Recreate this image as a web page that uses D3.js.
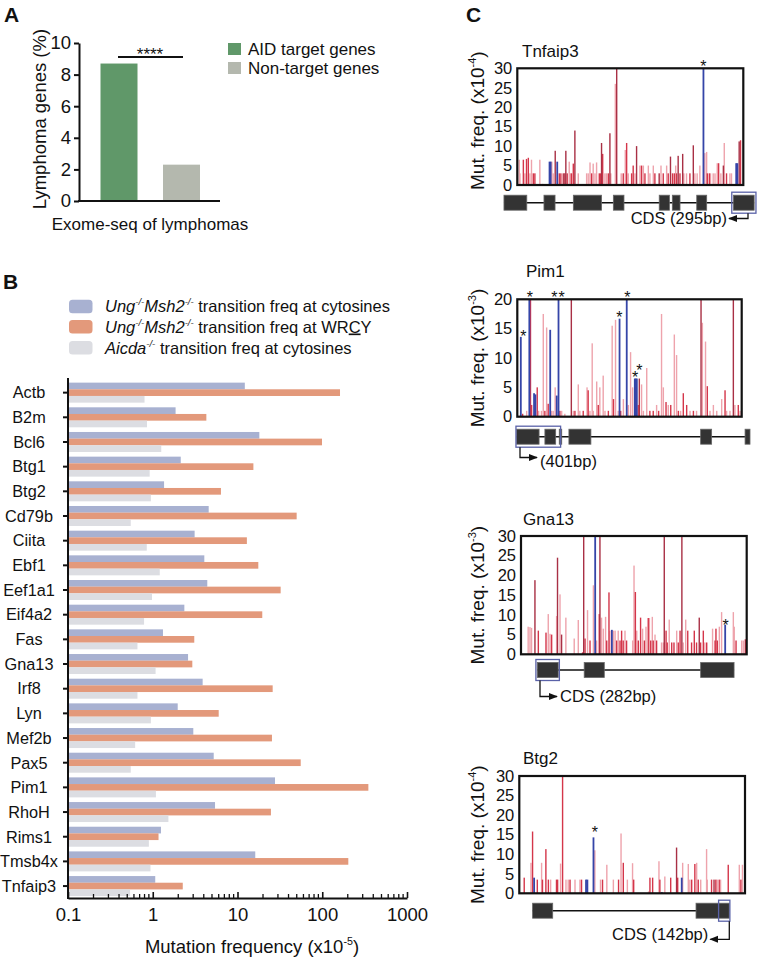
<!DOCTYPE html>
<html><head><meta charset="utf-8">
<script src="https://cdn.jsdelivr.net/npm/d3@7"></script>
<style>
body{margin:0;background:#fff}
svg{display:block}
text{font-family:"Liberation Sans",Arial,sans-serif;fill:#111}
</style>
</head><body>
<svg id="c" width="757" height="958"></svg>
<script>
// ---------------- DATA ----------------
// Panel A
const aCategories = ["AID target genes", "Non-target genes"];
const aValues = [8.7, 2.3];
const aTicks = [0, 2, 4, 6, 8, 10];

// Panel B
const bGenes = ["Actb","B2m","Bcl6","Btg1","Btg2","Cd79b","Ciita","Ebf1","Eef1a1","Eif4a2","Fas","Gna13","Irf8","Lyn","Mef2b","Pax5","Pim1","RhoH","Rims1","Tmsb4x","Tnfaip3"];
const bUngCyt  = [12.2,1.86,18.1,2.14,1.36,4.57,3.12,4.06,4.4,2.36,1.32,2.61,3.88,1.97,3.01,5.24,27.7,5.43,1.25,16.2,1.07];
const bUngWrcy = [162,4.29,99.3,15.4,6.38,49.9,12.9,17.6,32.3,19.6,3.09,2.93,26.0,6.0,25.5,55.7,350,24.8,1.17,203,2.26];
const bAicda   = [0.80,0.855,1.26,0.92,0.95,0.55,0.85,1.21,0.98,0.79,0.66,1.08,0.66,0.95,0.62,0.55,1.09,1.53,0.90,0.94,0.54];
const bTicks = [0.1, 1, 10, 100, 1000];

// Panel C : spikes [position (0-100 along region), mutation freq, class]
// class: p = light (pink), r = red, d = dark red, b = blue (significant)
const cTnfaip3 = [[0.9,6.5,'p'],[1.2,3,'p'],[2.7,6.5,'r'],[3.4,3,'p'],[4.1,6.7,'r'],[4.9,7,'r'],[5.6,3,'p'],[6.3,6.5,'p'],[7.1,3,'r'],[7.8,3,'r'],[10.0,6.5,'p'],[11.2,0.3,'p'],[14.2,6,'b'],[14.7,6,'b'],[15.3,6,'p'],[15.9,3,'p'],[16.8,8.8,'d'],[17.6,6,'b'],[18.6,3,'r'],[19.3,3,'r'],[20.1,3,'p'],[20.6,3,'d'],[21.1,3,'r'],[21.5,8.8,'d'],[22.1,3,'r'],[23.0,6,'p'],[23.6,3,'p'],[24.0,3,'r'],[24.8,5.5,'r'],[25.5,14,'d'],[27.0,3,'p'],[30.7,3,'p'],[31.4,3,'p'],[32.2,5.8,'p'],[32.9,3,'r'],[33.6,5.5,'p'],[34.4,3,'p'],[35.1,5.8,'p'],[36.3,3,'r'],[36.9,3,'r'],[37.3,10.8,'d'],[37.8,8,'r'],[38.8,3,'p'],[39.5,3,'p'],[40.3,3,'r'],[41.0,13.3,'d'],[41.4,3,'p'],[43.4,26,'p'],[44.0,30,'d'],[46.0,3,'p'],[46.9,3,'r'],[47.8,9,'p'],[48.4,10.8,'r'],[49.1,3,'p'],[50.6,3,'r'],[51.3,5,'r'],[52.1,3,'p'],[52.8,10,'d'],[54.3,5,'p'],[55.0,5,'r'],[55.8,5,'p'],[56.5,3,'r'],[58.0,5,'p'],[58.7,3,'p'],[60.2,5,'p'],[60.9,3,'r'],[62.8,3,'d'],[63.6,5,'p'],[64.6,3,'r'],[66.1,5,'p'],[66.8,3,'r'],[67.8,7.3,'d'],[68.7,3,'r'],[69.5,3,'r'],[70.1,5,'p'],[70.5,3,'r'],[71.2,7.5,'d'],[72.0,3,'r'],[73.2,8,'d'],[73.7,3,'p'],[74.9,3,'p'],[76.4,3,'r'],[77.9,10.2,'d'],[78.6,3,'p'],[79.6,3,'p'],[80.8,5,'p'],[82.3,30,'b'],[83.0,8.2,'p'],[83.8,8.5,'p'],[84.1,3,'r'],[85.0,3,'r'],[85.5,3,'p'],[86.7,3,'p'],[87.5,3,'p'],[88.5,5.6,'p'],[89.1,5.6,'r'],[90.1,3,'p'],[91.2,5,'d'],[91.6,10.8,'p'],[92.6,3,'r'],[94.1,3,'p'],[94.8,3,'p'],[96.8,5.6,'b'],[97.3,5.6,'b'],[98.2,11.2,'d'],[98.8,11.5,'r']];
const cPim1 = [[1.5,13.6,'b'],[2.4,0.5,'r'],[4.2,1,'p'],[5.3,20,'b'],[5.9,20,'r'],[6.4,2,'r'],[7.4,4,'b'],[8.0,3.8,'b'],[8.9,5,'r'],[9.5,1,'p'],[10.8,1,'p'],[11.6,17.5,'p'],[12.3,1,'r'],[13.1,15.2,'p'],[13.8,2.2,'r'],[14.6,14.8,'b'],[15.3,1,'p'],[16.0,1,'p'],[16.9,5,'p'],[17.5,3.6,'b'],[18.3,20,'b'],[19.0,1,'r'],[19.8,1,'p'],[21.2,0.5,'p'],[24.1,20,'d'],[25.0,1,'p'],[25.7,1,'r'],[27.2,5.5,'p'],[27.9,1,'p'],[29.4,1,'r'],[31.1,5,'p'],[31.6,4.5,'r'],[32.4,1,'p'],[33.4,12.5,'p'],[33.9,1,'p'],[35.4,6,'p'],[36.1,2,'r'],[36.8,5,'p'],[38.3,7,'p'],[39.1,1,'p'],[40.6,1,'r'],[42.3,15.5,'p'],[42.9,3,'r'],[43.8,16.5,'p'],[45.0,1,'p'],[45.5,16.7,'b'],[46.1,1,'r'],[47.3,3,'p'],[48.7,20,'b'],[49.5,2,'p'],[50.5,11,'p'],[51.4,5,'p'],[52.3,6.5,'b'],[52.7,6.5,'b'],[53.2,6.5,'b'],[53.9,2,'r'],[54.4,6.5,'d'],[55.4,5.5,'p'],[56.2,1,'p'],[57.7,8.3,'p'],[59.1,1,'r'],[60.6,1,'r'],[62.1,2,'p'],[63.0,1,'r'],[64.3,17.5,'p'],[65.1,5,'p'],[66.3,2.5,'r'],[67.3,2,'p'],[68.4,2,'r'],[70.0,14,'p'],[71.0,10.5,'p'],[71.8,1,'r'],[72.8,1,'p'],[74.0,4,'r'],[75.5,2,'r'],[77.0,1,'p'],[78.5,1,'r'],[79.9,1,'p'],[81.9,20,'d'],[82.5,16,'p'],[83.9,12.8,'p'],[84.7,5.2,'r'],[85.9,1,'p'],[87.4,2,'p'],[88.9,1,'p'],[91.1,3,'p'],[92.6,4.5,'r'],[93.3,1,'p'],[94.8,1,'p'],[96.3,20,'d'],[97.0,2,'p'],[98.5,2,'r'],[99.3,1,'p']];
const cGna13 = [[3.2,7,'p'],[4.0,6.9,'p'],[4.7,6.7,'p'],[6.2,18.8,'d'],[7.7,6,'r'],[11.1,5.5,'r'],[12.1,10.2,'p'],[12.9,5.2,'p'],[13.6,5,'r'],[15.8,9.7,'p'],[16.2,24.5,'d'],[17.3,15.2,'p'],[18.0,5,'d'],[19.9,9.3,'p'],[23.6,4,'p'],[25.4,8.7,'p'],[27.3,0.5,'r'],[27.8,30,'d'],[28.4,4,'r'],[29.5,11.2,'p'],[30.6,3.5,'r'],[32.1,17.5,'p'],[32.8,30,'b'],[33.5,3.5,'p'],[34.7,10.2,'r'],[35.0,30,'d'],[35.7,9.3,'p'],[36.5,6.5,'p'],[37.5,9.5,'p'],[38.0,3.5,'r'],[39.0,15.7,'r'],[39.4,6,'p'],[40.2,6.2,'b'],[40.9,6,'p'],[41.7,6,'p'],[42.4,3.5,'r'],[43.1,6,'p'],[43.9,3.5,'r'],[44.6,6,'r'],[45.3,3.5,'r'],[46.1,6,'p'],[46.8,3.5,'r'],[49.5,3.5,'p'],[50.1,22.5,'p'],[50.7,15.8,'r'],[51.3,6,'p'],[52.0,3.5,'r'],[53.0,9.3,'r'],[53.9,6.5,'p'],[54.7,3.5,'r'],[55.4,7,'p'],[56.4,9.2,'r'],[56.9,9.2,'p'],[57.5,3.5,'r'],[58.2,9.5,'p'],[58.6,3.5,'r'],[59.4,5,'p'],[60.1,3.5,'r'],[62.3,3,'p'],[63.1,3,'p'],[63.5,30,'d'],[64.3,6,'r'],[64.8,3,'r'],[65.7,8.8,'p'],[66.8,3,'r'],[67.8,3,'r'],[69.0,6,'p'],[69.7,3,'r'],[70.5,6,'r'],[71.3,30,'d'],[71.9,3,'p'],[73.0,8.8,'p'],[73.9,6,'r'],[75.6,3,'r'],[76.8,6,'r'],[77.8,3,'r'],[79.0,9.3,'d'],[79.6,3,'r'],[80.8,6,'r'],[81.5,3,'p'],[82.3,3,'r'],[84.9,6.5,'p'],[86.0,3.5,'r'],[86.4,6.5,'r'],[87.0,3.5,'r'],[87.9,7,'p'],[88.9,10.7,'p'],[90.4,7.5,'b'],[94.1,10.7,'p'],[94.5,7,'p'],[95.3,3.5,'r'],[97.8,3.5,'p'],[98.5,3.5,'p'],[99.4,3.8,'r']];
const cBtg2 = [[2.2,4,'r'],[5.2,7.8,'p'],[5.9,15.8,'r'],[6.5,4,'b'],[8.0,3.5,'r'],[9.9,7.8,'p'],[10.3,3.5,'r'],[11.8,11.3,'r'],[12.9,3.5,'r'],[13.9,3.5,'p'],[16.5,3.5,'r'],[17.0,3.5,'r'],[18.3,7.6,'p'],[19.2,30,'r'],[20.7,3.5,'p'],[21.7,3.5,'p'],[22.5,3.5,'r'],[24.7,3.5,'p'],[26.9,3.5,'p'],[27.6,3.5,'r'],[29.5,3.5,'b'],[30.1,3.5,'b'],[32.8,14.3,'b'],[33.5,11,'p'],[36.0,3.5,'p'],[36.9,3.5,'r'],[38.8,7.3,'p'],[41.7,3.5,'p'],[44.0,3.5,'r'],[45.1,15.3,'p'],[46.1,7.8,'r'],[47.9,3.5,'p'],[50.2,7.7,'p'],[50.7,3.5,'r'],[57.3,0.5,'p'],[57.9,4,'r'],[59.1,4,'r'],[61.9,8.2,'p'],[62.3,3.5,'r'],[63.1,0.3,'b'],[64.5,4.3,'p'],[67.1,4,'r'],[69.7,11.7,'d'],[70.2,4,'r'],[71.9,4,'b'],[72.4,7.8,'p'],[74.9,7.5,'p'],[75.6,3.5,'p'],[76.4,3.5,'r'],[77.8,7.5,'r'],[78.6,7.8,'p'],[79.3,3.5,'r'],[80.4,3.5,'p'],[83.0,11.3,'p'],[83.3,3.5,'p'],[85.2,3.5,'r'],[86.3,3.5,'d'],[87.1,3.5,'r'],[87.7,3.5,'p'],[88.6,3.5,'r'],[89.2,3.5,'p'],[92.6,7.3,'r'],[97.5,7.3,'p'],[98.2,3.5,'r'],[98.9,7.3,'p']];

// significance stars [position, freq at star centre]
const sTnfaip3 = [[82.3,31.4]];
const sPim1 = [[2.7,14.2],[5.6,20.9],[16.5,20.9],[19.8,20.9],[45.5,17.5],[49.0,20.9],[52.5,7.3],[54.4,8.4]];
const sGna13 = [[90.7,8.3]];
const sBtg2 = [[33.5,16.4]];

// gene structures (exons) in same position units, highlighted CDS region
const eTnfaip3 = [[-5.9,4.2],[11.8,16.7],[24.8,37.3],[42.5,47.2],[62.8,67.3],[68.6,72.0],[79.4,83.8],[95.6,104.8]];
const hTnfaip3 = [94.9,105.6];
const ePim1 = [[-0.3,9.7],[12.3,17.1],[18.7,19.8],[23.0,32.8],[81.7,86.6],[101.5,103.7]];
const hPim1 = [-0.6,19.3];
const eGna13 = [[7.2,16.5],[28.0,36.9],[79.6,94.4]];
const hGna13 = [6.6,17.0];
const eBtg2 = [[5.9,14.8],[78.3,93.0]];
const hBtg2 = [88.3,93.3];

// ---------------- DRAW ----------------
const svg = d3.select("#c");
const BLACK = "#111";
const FF = '"Liberation Sans",Arial,sans-serif';

function rich(t, parts, fs) {
  let shift = 0;
  parts.forEach(p => {
    const ts = t.append("tspan").text(p.t);
    if (p.sup) { ts.attr("font-size", fs * 0.58).attr("dy", -fs * 0.42); shift = fs * 0.42; }
    else if (shift) { ts.attr("dy", shift); shift = 0; }
    if (p.i) ts.attr("font-style", "italic");
    if (p.u) ts.attr("text-decoration", "underline");
  });
  return t;
}

// Panel labels
[["A",4,22],["B",3,289],["C",466,22]].forEach(([l,x,y]) =>
  svg.append("text").attr("x",x).attr("y",y).attr("font-size",21).attr("font-weight","bold").text(l));

// ===== Panel A =====
{
  const g = svg.append("g");
  const y = d3.scaleLinear([0,10],[201,43]);
  const x = d3.scalePoint(aCategories,[119,181.5]);
  const colors = ["#609869","#b4b8ae"];
  g.selectAll("rect.bar").data(aValues).join("rect")
    .attr("x",(d,i)=>x(aCategories[i]) - 18.5).attr("width",37)
    .attr("y",d=>y(d)).attr("height",d=>y(0)-y(d))
    .attr("fill",(d,i)=>colors[i]);
  const ax = g.append("g").attr("transform","translate(79,0)")
    .call(d3.axisLeft(y).tickValues(aTicks).tickSize(5).tickSizeOuter(0).tickPadding(3));
  ax.select(".domain").attr("stroke",BLACK).attr("stroke-width",2);
  ax.selectAll(".tick line").attr("stroke",BLACK).attr("stroke-width",2);
  ax.selectAll("text").attr("font-size",18.5).attr("fill",BLACK).attr("font-family",FF);
  g.append("line").attr("x1",78).attr("x2",220).attr("y1",201).attr("y2",201).attr("stroke",BLACK).attr("stroke-width",2);
  g.append("text").attr("transform","translate(45.5,119) rotate(-90)").attr("text-anchor","middle").attr("font-size",18.5).text("Lymphoma genes (%)");
  g.append("text").attr("x",150).attr("y",230).attr("text-anchor","middle").attr("font-size",17).text("Exome-seq of lymphomas");
  g.append("line").attr("x1",x(aCategories[0])-1).attr("x2",x(aCategories[1])+1.5).attr("y1",57).attr("y2",57).attr("stroke",BLACK).attr("stroke-width",2);
  g.append("text").attr("x",150).attr("y",59.5).attr("text-anchor","middle").attr("font-size",17).text("****");
  aCategories.forEach((c,i)=>{
    g.append("rect").attr("x",228).attr("y",43+i*19).attr("width",13).attr("height",12).attr("fill",colors[i]);
    g.append("text").attr("x",248).attr("y",55+i*18.7).attr("font-size",17).text(c);
  });
}

// ===== Panel B =====
{
  const g = svg.append("g");
  const x = d3.scaleLog([0.1,1000],[68,407]);
  const y = d3.scaleBand(bGenes,[380.3,898.4]);
  const series = [
    {vals:bUngCyt, color:"#a8b1d1", off:-10},
    {vals:bUngWrcy, color:"#e3997b", off:-3.35},
    {vals:bAicda, color:"#dcdde2", off:3.3}
  ];
  series.forEach(s => {
    g.append("g").selectAll("rect").data(bGenes).join("rect")
      .attr("x",x(0.1)).attr("width",(d,i)=>x(s.vals[i])-x(0.1))
      .attr("y",d=>y(d)+y.bandwidth()/2+s.off).attr("height",6.7)
      .attr("fill",s.color);
  });
  // y axis
  g.append("line").attr("x1",68).attr("x2",68).attr("y1",378).attr("y2",899).attr("stroke",BLACK).attr("stroke-width",2);
  g.selectAll("line.yt").data(bGenes).join("line").attr("class","yt")
    .attr("x1",63).attr("x2",68).attr("y1",d=>y(d)+y.bandwidth()/2).attr("y2",d=>y(d)+y.bandwidth()/2)
    .attr("stroke",BLACK).attr("stroke-width",2);
  g.selectAll("text.yl").data(bGenes).join("text").attr("class","yl")
    .attr("x",29).attr("y",d=>y(d)+y.bandwidth()/2+5.8).attr("text-anchor","middle").attr("font-size",16.3).text(d=>d);
  // x axis
  const ax = g.append("g").attr("transform","translate(0,898)")
    .call(d3.axisBottom(x).tickValues(bTicks).tickFormat(d=>String(d)).tickSize(-6).tickSizeOuter(0).tickPadding(10));
  ax.select(".domain").attr("stroke",BLACK).attr("stroke-width",2);
  ax.selectAll(".tick line").attr("stroke",BLACK).attr("stroke-width",1.6);
  ax.selectAll("text").attr("font-size",18.5).attr("fill",BLACK).attr("font-family",FF);
  const minor = [];
  [0.1,1,10,100].forEach(dec => { for (let k=2;k<=9;k++) minor.push(dec*k); });
  g.selectAll("line.mt").data(minor).join("line").attr("class","mt")
    .attr("x1",d=>x(d)).attr("x2",d=>x(d)).attr("y1",898).attr("y2",894)
    .attr("stroke",BLACK).attr("stroke-width",1.3);
  rich(g.append("text").attr("x",252).attr("y",953).attr("text-anchor","middle").attr("font-size",18.5),
    [{t:"Mutation frequency (x10"},{t:"-5",sup:true},{t:")"}],18.5);
  // legend
  const leg = [
    [{t:"Ung",i:true},{t:"-/-",sup:true,i:true},{t:"Msh2",i:true},{t:"-/-",sup:true,i:true},{t:" transition freq at cytosines"}],
    [{t:"Ung",i:true},{t:"-/-",sup:true,i:true},{t:"Msh2",i:true},{t:"-/-",sup:true,i:true},{t:" transition freq at WR"},{t:"C",u:true},{t:"Y"}],
    [{t:"Aicda",i:true},{t:"-/-",sup:true,i:true},{t:" transition freq at cytosines"}]
  ];
  const ly = [306.5,326.7,347.7];
  series.forEach((s,i)=>{
    g.append("rect").attr("x",69).attr("y",ly[i]-6.7).attr("width",23.5).attr("height",13.4).attr("rx",3.5).attr("fill",s.color);
    rich(g.append("text").attr("x",105).attr("y",ly[i]+5.8).attr("font-size",16.5), leg[i], 16.5);
  });
}

// ===== Panel C =====
const spikeColor = {p:"#eea3ac", r:"#d4364a", d:"#a93045", b:"#3545a8"};
const panels = [
  {name:"Tnfaip3", data:cTnfaip3, stars:sTnfaip3, exons:eTnfaip3, hl:hTnfaip3, x0:517.3, x1:743.3, y0:68.3, y1:185, ymax:30, exp:"-4", ty:57, tx:522, dy:202.7,
    note:{text:"CDS (295bp)", side:"R", ax:748, ay:218.5}},
  {name:"Pim1", data:cPim1, stars:sPim1, exons:ePim1, hl:hPim1, x0:517.3, x1:741.7, y0:299.3, y1:416.7, ymax:20, exp:"-3", ty:277, tx:526, dy:436.7,
    note:{text:"(401bp)", side:"L", ax:520, ay:457.5}},
  {name:"Gna13", data:cGna13, stars:sGna13, exons:eGna13, hl:hGna13, x0:521, x1:746.7, y0:536, y1:654.3, ymax:30, exp:"-3", ty:525, tx:523, dy:670,
    note:{text:"CDS (282bp)", side:"L", ax:540, ay:696.5}},
  {name:"Btg2", data:cBtg2, stars:sBtg2, exons:eBtg2, hl:hBtg2, x0:519.3, x1:745, y0:776, y1:893.3, ymax:30, exp:"-4", ty:764, tx:523, dy:910.7,
    note:{text:"CDS (142bp)", side:"R", ax:729.3, ay:939.3}}
];
const defs = svg.append("defs");
defs.append("marker").attr("id","ah").attr("viewBox","0 0 10 10").attr("refX",9).attr("refY",5)
  .attr("markerWidth",7).attr("markerHeight",7).attr("orient","auto-start-reverse")
  .append("path").attr("d","M0,1 L10,5 L0,9 Z").attr("fill",BLACK);

panels.forEach((P,pi) => {
  const g = svg.append("g");
  const x = d3.scaleLinear([0,100],[P.x0,P.x1]);
  const y = d3.scaleLinear([0,P.ymax],[P.y1,P.y0]);
  defs.append("clipPath").attr("id","clip"+pi).append("rect")
    .attr("x",P.x0).attr("y",P.y0).attr("width",P.x1-P.x0).attr("height",P.y1-P.y0);
  g.append("text").attr("x",P.tx).attr("y",P.ty).attr("font-size",17).text(P.name);
  const sp = g.append("g").attr("clip-path","url(#clip"+pi+")");
  const order = {p:0,r:1,d:2,b:3};
  const sorted = P.data.slice().sort((a,b)=>order[a[2]]-order[b[2]]);
  sp.selectAll("rect").data(sorted).join("rect")
    .attr("x",d=>x(d[0])-0.75).attr("width",d=>d[2]==='b'?1.8:1.4)
    .attr("y",d=>y(Math.min(d[1],P.ymax))).attr("height",d=>y(0)-y(Math.min(d[1],P.ymax)))
    .attr("fill",d=>spikeColor[d[2]]);
  g.append("rect").attr("x",P.x0).attr("y",P.y0).attr("width",P.x1-P.x0).attr("height",P.y1-P.y0)
    .attr("fill","none").attr("stroke",BLACK).attr("stroke-width",2.2);
  const ax = g.append("g").attr("transform",`translate(${P.x0},0)`)
    .call(d3.axisLeft(y).tickValues(d3.range(0,P.ymax+1,5)).tickSize(0).tickPadding(5));
  ax.select(".domain").remove();
  ax.selectAll("text").attr("font-size",16.5).attr("fill",BLACK).attr("font-family",FF);
  rich(g.append("text").attr("transform",`translate(483.5,${(P.y0+P.y1)/2 + (pi===0?-6:0)}) rotate(-90)`)
      .attr("text-anchor","middle").attr("font-size",19),
    [{t:"Mut. freq. (x10"},{t:P.exp,sup:true},{t:")"}],19);
  g.selectAll("text.st").data(P.stars).join("text").attr("class","st")
    .attr("x",d=>x(d[0])).attr("y",d=>y(d[1])+9).attr("text-anchor","middle").attr("font-size",16).text("*");
  // gene structure
  const ex0 = d3.min(P.exons,e=>e[0]), ex1 = d3.max(P.exons,e=>e[1]);
  g.append("line").attr("x1",x(ex0)).attr("x2",x(ex1)).attr("y1",P.dy).attr("y2",P.dy).attr("stroke",BLACK).attr("stroke-width",1.4);
  g.selectAll("rect.ex").data(P.exons).join("rect").attr("class","ex")
    .attr("x",d=>x(d[0])).attr("width",d=>x(d[1])-x(d[0])).attr("y",P.dy-7.5).attr("height",15)
    .attr("fill","#333").attr("stroke","#666").attr("stroke-width",0.8);
  g.append("rect").attr("x",x(P.hl[0])).attr("width",x(P.hl[1])-x(P.hl[0])).attr("y",P.dy-10.5).attr("height",21)
    .attr("fill","none").attr("stroke","#5a62a8").attr("stroke-width",1.3);
  // CDS annotation
  const bottom = P.dy + 10.5;
  const N = P.note;
  if (N.side === "R") {
    g.append("path").attr("d",`M${N.ax},${bottom} L${N.ax},${N.ay} L${N.ax-19},${N.ay}`)
      .attr("fill","none").attr("stroke",BLACK).attr("stroke-width",1.3).attr("marker-end","url(#ah)");
    g.append("text").attr("x",N.ax-21).attr("y",N.ay+ (pi===3?0.5:5.5)).attr("text-anchor","end").attr("font-size",16.5).text(N.text);
  } else {
    g.append("path").attr("d",`M${N.ax},${bottom} L${N.ax},${N.ay} L${N.ax+17},${N.ay}`)
      .attr("fill","none").attr("stroke",BLACK).attr("stroke-width",1.3).attr("marker-end","url(#ah)");
    g.append("text").attr("x",N.ax+20).attr("y",N.ay+(pi===1?9:5)).attr("font-size",16.5).text(N.text);
  }
});
</script>
</body></html>
